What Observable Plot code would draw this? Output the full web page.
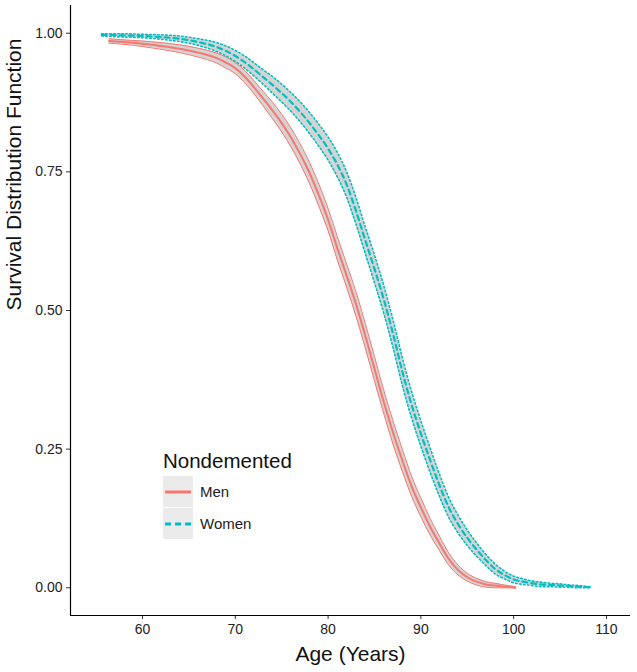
<!DOCTYPE html>
<html>
<head>
<meta charset="utf-8">
<script src="https://cdn.jsdelivr.net/npm/d3@7"></script>
<script src="https://cdn.jsdelivr.net/npm/@observablehq/plot@0.6"></script>
<style>
  html, body { margin: 0; padding: 0; background: #fff; }
  #wrap { position: relative; width: 637px; height: 672px; }
  #legend { position: absolute; left: 0; top: 0; pointer-events: none; }
</style>
</head>
<body>
<div id="wrap"></div>
<script>
// ---- data ----
const xTicks = [60, 70, 80, 90, 100, 110];
const yTicks = [0, 0.25, 0.5, 0.75, 1];
const xDomain = [52.24, 112.59];
const yDomain = [-0.05, 1.05];

const groupNames = ["Men", "Women"];
const legendTitle = "Nondemented";

const menAge  = [56.4,58,60,62,64,66,68,69,70,71,72,73,74,75,76,77,78,79,80,81,82,83,84,85,86,87,88,89,90,91,92,93,94,95,96,97,98,99,100.2];
const menSurv = [0.986,0.984,0.981,0.977,0.972,0.965,0.955,0.947,
                 0.937,0.922,0.903,0.882,0.861,0.838,0.812,0.782,0.748,0.708,
                 0.664,0.612,0.563,0.512,0.455,0.395,0.335,0.280,0.230,0.183,
                 0.145,0.110,0.080,0.052,0.032,0.019,0.011,0.006,0.004,0.002,
                 0.000];
const menCI   = [0.004,0.004,0.005,0.006,0.007,0.008,0.009,0.010,
                 0.010,0.011,0.012,0.013,0.015,0.016,0.017,0.018,0.019,0.020,
                 0.020,0.021,0.021,0.022,0.022,0.022,0.021,0.021,0.020,0.018,
                 0.017,0.015,0.013,0.011,0.009,0.007,0.006,0.005,0.004,0.003,
                 0.002];

const womenAge  = [55.6,58,60,62,64,66,68,69,70,71,72,73,74,75,76,77,78,79,80,81,82,83,84,85,86,87,88,89,90,91,92,93,94,95,96,97,98,99,100,101,102,103,104,105,106,107,108.2];
const womenSurv = [0.997,0.996,0.995,0.993,0.990,0.984,0.975,0.968,
                   0.959,0.948,0.935,0.921,0.907,0.892,0.876,0.858,0.838,0.816,
                   0.792,0.763,0.727,0.680,0.627,0.575,0.520,0.458,0.390,0.330,
                   0.278,0.230,0.185,0.145,0.115,0.090,0.069,0.050,0.034,0.023,
                   0.015,0.011,0.008,0.006,0.005,0.004,0.003,0.002,
                   0.001];
const womenCI   = [0.002,0.003,0.003,0.004,0.005,0.006,0.008,0.009,
                   0.010,0.011,0.012,0.013,0.015,0.016,0.017,0.018,0.019,0.020,
                   0.021,0.022,0.023,0.024,0.024,0.025,0.025,0.025,0.025,0.024,
                   0.023,0.022,0.020,0.018,0.016,0.014,0.012,0.010,0.009,0.007,
                   0.006,0.005,0.004,0.004,0.003,0.003,0.002,0.002,
                   0.001];

// ---- build tables ----
function table(ages, surv, ci) {
  return ages.map((a, i) => ({
    age: a, s: surv[i],
    lo: Math.max(0, surv[i] - ci[i]),
    hi: Math.min(1, surv[i] + ci[i])
  }));
}
const men = table(menAge, menSurv, menCI);
const women = table(womenAge, womenSurv, womenCI);

const menColor = "#F8766D";
const womenColor = "#00BFC4";
const bandFill = "#d4d4d4";
const crv = "monotone-x";

const chart = Plot.plot({
  width: 637,
  height: 672,
  marginLeft: 70,
  marginRight: 7,
  marginTop: 5,
  marginBottom: 57,
  style: { fontFamily: "'Liberation Sans', Arial, Helvetica, sans-serif", background: "#fff", color: "#333" },
  x: { domain: xDomain, ticks: xTicks },
  y: { domain: yDomain, ticks: yTicks, tickFormat: d3.format(".2f") },
  marks: [
    Plot.areaY(women, { x: "age", y1: "lo", y2: "hi", fill: bandFill, curve: crv }),
    Plot.areaY(men, { x: "age", y1: "lo", y2: "hi", fill: bandFill, curve: crv }),
    // women outlines (dotted) and center (dashed)
    Plot.line(women, { x: "age", y: "lo", stroke: womenColor, strokeWidth: 1.6, strokeDasharray: "1.5,2.5", curve: crv }),
    Plot.line(women, { x: "age", y: "hi", stroke: womenColor, strokeWidth: 1.6, strokeDasharray: "1.5,2.5", curve: crv }),
    Plot.line(women, { x: "age", y: "s", stroke: womenColor, strokeWidth: 2.2, strokeDasharray: "5,4", curve: crv }),
    // men outlines and center (solid)
    Plot.line(men, { x: "age", y: "lo", stroke: menColor, strokeWidth: 1, curve: crv }),
    Plot.line(men, { x: "age", y: "hi", stroke: menColor, strokeWidth: 1, curve: crv }),
    Plot.line(men, { x: "age", y: "s", stroke: menColor, strokeWidth: 2, curve: crv }),
    // axes
    Plot.axisX({ ticks: xTicks, tickSize: 4, tickPadding: 5, fontSize: 14, label: null, stroke: "#333", fill: "#222" }),
    Plot.axisY({ ticks: yTicks, tickSize: 4, tickPadding: 4, fontSize: 14, label: null, tickFormat: d3.format(".2f"), stroke: "#333", fill: "#222" }),
    Plot.ruleX([xDomain[0]], { stroke: "#000", strokeWidth: 1.2 }),
    Plot.ruleY([yDomain[0]], { stroke: "#000", strokeWidth: 1.2 }),
    Plot.text(["Age (Years)"], { frameAnchor: "bottom", dy: 45, fontSize: 21, fill: "#111" }),
    Plot.text(["Survival Distribution Function"], { frameAnchor: "left", dx: -56, rotate: -90, fontSize: 21, fill: "#111" })
  ]
});

const wrap = document.getElementById("wrap");
wrap.appendChild(chart);

// ---- legend overlay ----
const leg = d3.select(wrap).append("svg")
  .attr("id", "legend")
  .attr("width", 637).attr("height", 672)
  .style("font-family", "'Liberation Sans', Arial, Helvetica, sans-serif");

leg.append("text").attr("x", 163).attr("y", 468).attr("font-size", 20.5).attr("fill", "#111").text(legendTitle);

const keys = [
  { name: groupNames[0], color: menColor, dash: null, y: 476 },
  { name: groupNames[1], color: womenColor, dash: "6,4", y: 508 }
];
keys.forEach(k => {
  leg.append("rect").attr("x", 163).attr("y", k.y).attr("width", 30).attr("height", 31).attr("fill", "#ebebeb");
  const ln = leg.append("line")
    .attr("x1", 165).attr("x2", 191)
    .attr("y1", k.y + 16).attr("y2", k.y + 16)
    .attr("stroke", k.color).attr("stroke-width", 3);
  if (k.dash) ln.attr("stroke-dasharray", k.dash);
  leg.append("text").attr("x", 200).attr("y", k.y + 21).attr("font-size", 15).attr("fill", "#222").text(k.name);
});
</script>
</body>
</html>
